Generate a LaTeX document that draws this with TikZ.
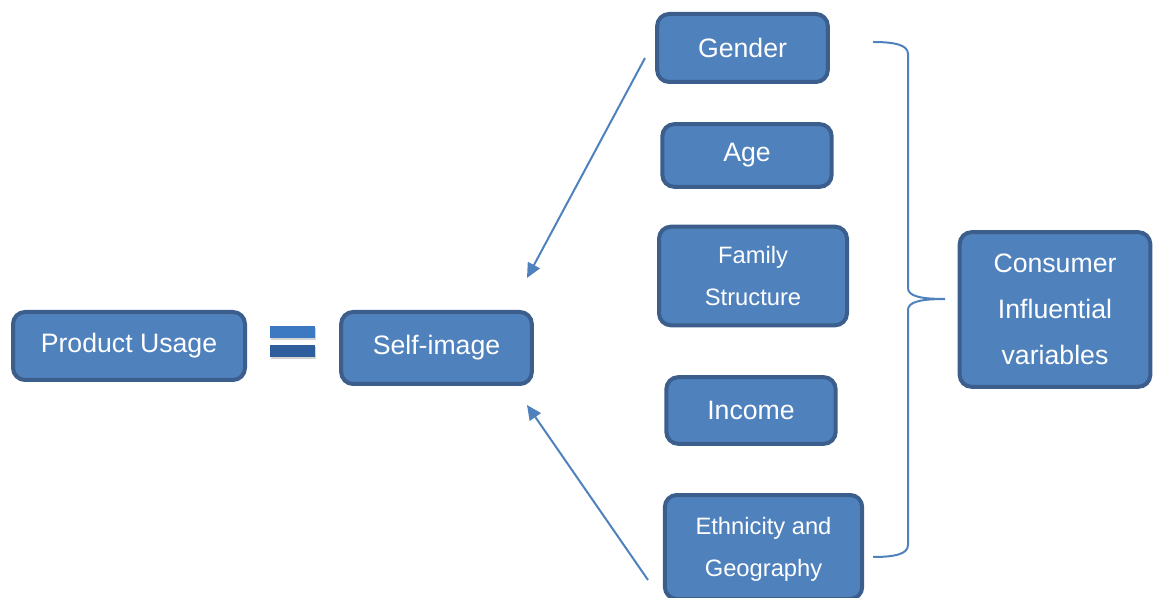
\documentclass[tikz,border=0pt]{standalone}
\usepackage{fontspec}
\setmainfont{Liberation Sans}
\usetikzlibrary{arrows.meta,shadows}
\definecolor{boxfill}{HTML}{4F81BD}
\definecolor{boxline}{HTML}{3B5E8C}
\definecolor{eqlight}{HTML}{3D78C2}
\definecolor{eqdark}{HTML}{2F5E9C}
\tikzset{
	varbox/.style={draw=boxline, line width=3pt, fill=boxfill, rounded corners=9pt,
		text=white, align=center, inner sep=0pt, font=\fontsize{20}{34.5}\selectfont},
	smallbox/.style={varbox, font=\fontsize{17.8}{31}\selectfont},
	link/.style={draw=boxfill, line width=1.5pt, -{Triangle[length=11pt,width=10pt]}},
	eqbar/.style={minimum width=34pt, minimum height=9pt, inner sep=0pt,
		drop shadow={opacity=0.35, shadow xshift=0.8pt, shadow yshift=-1.5pt}},
}
\begin{document}
\begin{tikzpicture}[x=0.75pt, y=-0.75pt]
	\useasboundingbox (0,0) rectangle (1153,598);
	% left side
	\node[varbox, minimum width=174pt, minimum height=51pt] (usage) at (129,346) {Product Usage};
	\node[eqbar, fill=eqlight] (eqtop) at (292.5,332) {};
	\node[eqbar, fill=eqdark] (eqbot) at (292.5,351) {};
	\node[varbox, minimum width=143pt, minimum height=54pt] (self) at (436.5,348) {Self-image};
	% variables
	\node[varbox, minimum width=128pt, minimum height=51pt] (gender) at (742.5,48) {Gender};
	\node[varbox, minimum width=127pt, minimum height=47pt] (age) at (747,155.5) {Age};
	\node[smallbox, minimum width=141pt, minimum height=74pt, text depth=0pt] (family) at (753,276) {Family\\Structure};
	\node[varbox, minimum width=127pt, minimum height=50pt] (income) at (751,410.5) {Income};
	\node[smallbox, minimum width=148pt, minimum height=78pt, text depth=0pt] (ethnic) at (763.5,547) {Ethnicity and\\Geography};
	\node[varbox, minimum width=143pt, minimum height=116pt, text depth=0pt] (consumer) at (1055,309.5) {Consumer\\Influential\\variables};
	% arrows
	\coordinate (a1) at (645,58);	\coordinate (b1) at (527,278);
	\coordinate (a2) at (648,580);	\coordinate (b2) at (527,405);
	\draw[link] (a1) -- (b1);
	\draw[link] (a2) -- (b2);
	% brace
	\coordinate (bt) at (873,42);	\coordinate (bb) at (873,557);
	\coordinate (tip) at (945,299);
	\draw[boxfill, line width=1.5pt] (bt) .. controls (895,42) and (908,45) .. (908,54)
		-- (908,288) .. controls (908,296) and (920,299) .. (tip)
		.. controls (920,299) and (908,302) .. (908,310)
		-- (908,545) .. controls (908,554) and (895,557) .. (bb);
\end{tikzpicture}
\end{document}
